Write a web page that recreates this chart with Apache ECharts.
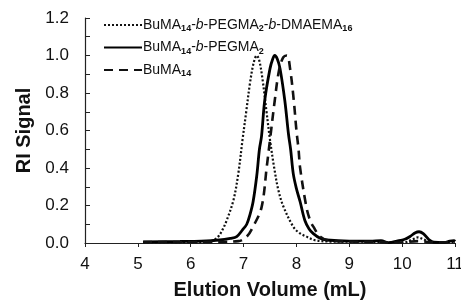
<!doctype html>
<html>
<head>
<meta charset="utf-8">
<title>GPC traces</title>
<script src="https://cdn.jsdelivr.net/npm/echarts@6/dist/echarts.min.js"></script>
<style>
  html, body { margin: 0; padding: 0; background: #fff; }
  #main { width: 461px; height: 302px; }
</style>
</head>
<body>
<div id="main"></div>
<script>
// series names (rich text for subscripts / italics)
var names = ['triblock', 'diblock', 'homo'];
var labels = {
  triblock: 'BuMA{s|14}-{i|b}-PEGMA{s|2}-{i|b}-DMAEMA{s|16}',
  diblock: 'BuMA{s|14}-{i|b}-PEGMA{s|2}',
  homo: 'BuMA{s|14}'
};

// elution volume (mL), RI signal
var triblockData = [
  [5.10,0.005],[6.20,0.005],[6.40,0.012],[6.52,0.034],[6.60,0.07],[6.68,0.12],
  [6.81,0.23],[6.90,0.37],[6.98,0.55],[7.05,0.70],[7.12,0.85],[7.19,0.96],
  [7.25,1.00],[7.30,0.97],[7.36,0.87],[7.43,0.71],[7.50,0.55],[7.58,0.40],
  [7.66,0.28],[7.76,0.19],[7.94,0.087],[8.05,0.055],[8.19,0.034],[8.35,0.015],
  [8.60,0.008],[9.50,0.006],[9.75,0.003],[10.05,0.004],[10.20,0.02],[10.30,0.03],
  [10.40,0.02],[10.55,0.004],[11.0,0.004]
];
var diblockData = [
  [5.10,0.006],[5.80,0.008],[6.20,0.01],[6.55,0.016],[6.75,0.025],[6.87,0.034],
  [6.98,0.07],[7.06,0.10],[7.12,0.15],[7.18,0.22],[7.25,0.36],[7.30,0.50],
  [7.34,0.57],[7.40,0.76],[7.50,0.93],[7.55,0.98],[7.59,1.00],[7.64,0.98],
  [7.69,0.93],[7.78,0.76],[7.85,0.58],[7.89,0.50],[7.94,0.37],[8.00,0.29],
  [8.07,0.22],[8.16,0.12],[8.24,0.075],[8.32,0.05],[8.45,0.025],[8.57,0.016],
  [9.00,0.01],[9.40,0.01],[9.60,0.012],[9.75,0.002],[9.90,0.01],[10.05,0.02],
  [10.15,0.035],[10.25,0.055],[10.32,0.06],[10.40,0.05],[10.50,0.02],[10.60,0.004],
  [10.80,0.003],[10.90,0.01],[10.98,0.012],[11.0,0.008]
];
var homoData = [
  [5.10,0.005],[6.50,0.006],[6.90,0.01],[7.06,0.034],[7.18,0.087],[7.34,0.19],
  [7.44,0.41],[7.50,0.55],[7.59,0.76],[7.67,0.92],[7.75,0.99],[7.82,1.00],
  [7.88,0.93],[7.95,0.76],[8.00,0.60],[8.04,0.50],[8.07,0.40],[8.19,0.19],
  [8.26,0.12],[8.32,0.087],[8.45,0.034],[8.60,0.015],[9.00,0.008],[9.50,0.006],
  [9.75,0.003],[10.0,0.004],[10.3,0.01],[10.6,0.004],[11.0,0.004]
];

var xTicks = { min: 4, max: 11, step: 1 };
var yTicks = { min: 0, max: 1.2, step: 0.1, labelEvery: 2 };

var chart = echarts.init(document.getElementById('main'));
var font = 'Liberation Sans, Arial, sans-serif';

var option = {
  animation: false,
  grid: { left: 85, right: 6, top: 18, bottom: 59, outerBoundsMode: 'none', containLabel: false },
  legend: {
    orient: 'vertical',
    left: 98,
    top: 13,
    itemWidth: 38,
    itemHeight: 14,
    itemGap: 7,
    data: names,
    itemStyle: { opacity: 0 },
    formatter: function (n) { return labels[n]; },
    textStyle: {
      fontFamily: font, fontSize: 14, color: '#111', padding: [0, 0, 0, -4],
      rich: {
        s: { fontFamily: font, fontSize: 9, fontWeight: 'bold', padding: [8, 0, 0, 0], color: '#111' },
        i: { fontFamily: font, fontSize: 14, fontStyle: 'italic', color: '#111' }
      }
    }
  },
  xAxis: {
    type: 'value',
    min: xTicks.min, max: xTicks.max, interval: xTicks.step,
    name: 'Elution Volume (mL)',
    nameLocation: 'middle',
    nameGap: 37,
    nameTextStyle: { fontFamily: font, fontSize: 20, fontWeight: 'bold', color: '#111' },
    axisLine: { lineStyle: { color: '#222', width: 1.2 } },
    axisTick: { show: true, length: 4, lineStyle: { color: '#222' } },
    axisLabel: { fontFamily: font, fontSize: 17, color: '#111', margin: 13 },
    splitLine: { show: false }
  },
  yAxis: {
    type: 'value',
    min: yTicks.min, max: yTicks.max, interval: yTicks.step,
    name: 'RI Signal',
    nameLocation: 'middle',
    nameGap: 51,
    nameTextStyle: { fontFamily: font, fontSize: 20, fontWeight: 'bold', color: '#111' },
    axisLine: { show: true, lineStyle: { color: '#222', width: 1.2 } },
    axisTick: { show: true, inside: true, length: 5, lineStyle: { color: '#222' } },
    axisLabel: {
      fontFamily: font, fontSize: 17, color: '#111', margin: 16,
      formatter: function (v) {
        var k = Math.round(v / yTicks.step);
        return k % yTicks.labelEvery === 0 ? v.toFixed(1) : '';
      }
    },
    splitLine: { show: false }
  },
  series: [
    {
      name: 'triblock', type: 'line', data: triblockData, symbol: 'none', smooth: 0.35,
      itemStyle: { color: '#111' },
      lineStyle: { color: '#111', width: 2.2, type: [2, 2] }
    },
    {
      name: 'diblock', type: 'line', data: diblockData, symbol: 'none', smooth: 0.35,
      itemStyle: { color: '#000' },
      lineStyle: { color: '#000', width: 2.8 }
    },
    {
      name: 'homo', type: 'line', data: homoData, symbol: 'none', smooth: 0.35,
      itemStyle: { color: '#111' },
      lineStyle: { color: '#111', width: 2.6, type: [9, 6] }
    }
  ]
};
chart.setOption(option);
</script>
</body>
</html>
